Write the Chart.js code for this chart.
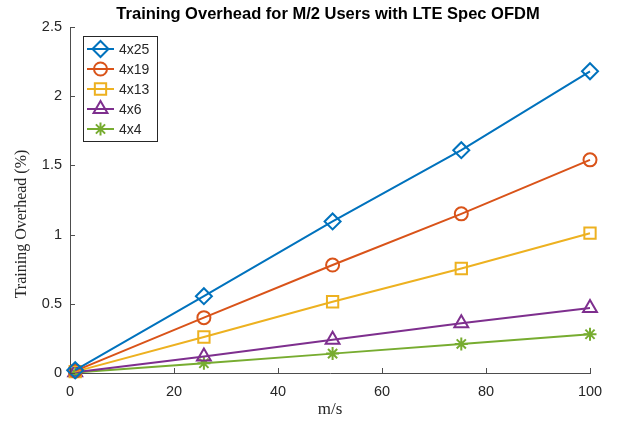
<!DOCTYPE html>
<html>
<head>
<meta charset="utf-8">
<script src="https://cdn.jsdelivr.net/npm/chart.js@4/dist/chart.umd.min.js"></script>
<style>
  html, body { margin: 0; padding: 0; background: #fff; }
  #wrap { width: 618px; height: 424px; }
</style>
</head>
<body>
<div id="wrap"><canvas id="overheadChart"></canvas></div>
<script>
// speeds in m/s where the markers sit
const speeds = [1, 25.75, 50.5, 75.25, 100];

const seriesNames = ["4x25", "4x19", "4x13", "4x6", "4x4"];
const overhead4x25 = [0.02, 0.555, 1.095, 1.61, 2.18];
const overhead4x19 = [0.015, 0.40, 0.78, 1.15, 1.54];
const overhead4x13 = [0.01, 0.26, 0.515, 0.755, 1.01];
const overhead4x6 = [0.005, 0.12, 0.24, 0.36, 0.47];
const overhead4x4 = [0.003, 0.07, 0.14, 0.21, 0.28];

const xTicks = [0, 20, 40, 60, 80, 100];
const yTicks = [0, 0.5, 1, 1.5, 2, 2.5];

const chartTitle = "Training Overhead for M/2 Users with LTE Spec OFDM";
const yTitle = "Training Overhead (%)";
const xTitle = "m/s";

const seriesValues = [overhead4x25, overhead4x19, overhead4x13, overhead4x6, overhead4x4];
const colors = ["#0072BD", "#D95319", "#EDB120", "#7E2F8E", "#77AC30"];
const markers = ["rectRot", "circle", "rect", "triangle", "star"];
const markerSizes = [8, 6.5, 8, 8, 6.5];

const axisColor = "#4d4d4d";
const textColor = "#262626";
const sans = "'Liberation Sans', Arial, sans-serif";
const serif = "'Liberation Serif', 'Times New Roman', serif";

const datasets = seriesNames.map((name, i) => ({
  label: name,
  data: speeds.map((s, j) => ({ x: s, y: seriesValues[i][j] })),
  borderColor: colors[i],
  backgroundColor: "rgba(0,0,0,0)",
  borderWidth: 2,
  pointStyle: markers[i],
  pointRadius: markerSizes[i],
  pointBorderWidth: 2,
  pointBackgroundColor: "rgba(0,0,0,0)",
  pointBorderColor: colors[i],
  tension: 0,
  clip: false,
}));

function drawMarker(ctx, style, r, x, y, color) {
  if (Chart.helpers && Chart.helpers.drawPoint) {
    ctx.strokeStyle = color;
    ctx.fillStyle = "rgba(0,0,0,0)";
    ctx.lineWidth = 2;
    Chart.helpers.drawPoint(ctx, { pointStyle: style, radius: r, rotation: 0, borderWidth: 2 }, x, y);
  }
}

// MATLAB-style title, y label, legend in the upper left, inward tick marks
const matlabBits = {
  id: "matlabBits",
  afterDraw(chart) {
    const ctx = chart.ctx;
    const area = chart.chartArea;
    const xs = chart.scales.x;
    const ys = chart.scales.y;
    ctx.save();
    ctx.strokeStyle = axisColor;
    ctx.lineWidth = 1;
    ctx.beginPath();
    xTicks.forEach(t => {
      const px = Math.round(xs.getPixelForValue(t)) + 0.5;
      ctx.moveTo(px, area.bottom);
      ctx.lineTo(px, area.bottom - 5);
    });
    yTicks.forEach(t => {
      const py = Math.round(ys.getPixelForValue(t)) + 0.5;
      ctx.moveTo(area.left, py);
      ctx.lineTo(area.left + 5, py);
    });
    ctx.stroke();

    // title
    ctx.fillStyle = "#000";
    ctx.font = "bold 16.5px " + sans;
    ctx.textAlign = "center";
    ctx.textBaseline = "middle";
    ctx.fillText(chartTitle, 328, 14);

    // y label
    ctx.save();
    ctx.translate(22, 224);
    ctx.rotate(-Math.PI / 2);
    ctx.fillStyle = textColor;
    ctx.font = "16px " + serif;
    ctx.fillText(yTitle, 0, 0);
    ctx.restore();

    // legend box
    const bx = 83.5, by = 36.5, bw = 74, bh = 105;
    ctx.fillStyle = "#fff";
    ctx.fillRect(bx, by, bw, bh);
    ctx.strokeStyle = textColor;
    ctx.lineWidth = 1;
    ctx.strokeRect(bx, by, bw, bh);

    ctx.font = "14px " + sans;
    ctx.textBaseline = "middle";
    ctx.textAlign = "left";
    chart.data.datasets.forEach((ds, i) => {
      const y = 49 + i * 20;
      ctx.strokeStyle = ds.borderColor;
      ctx.lineWidth = 2;
      ctx.beginPath();
      ctx.moveTo(87, y);
      ctx.lineTo(114, y);
      ctx.stroke();
      drawMarker(ctx, ds.pointStyle, ds.pointRadius, 100.5, y, ds.borderColor);
      ctx.fillStyle = textColor;
      ctx.fillText(ds.label, 119, y + 1);
    });
    ctx.restore();
  },
};

new Chart(document.getElementById("overheadChart"), {
  type: "line",
  data: { datasets: datasets },
  plugins: [matlabBits],
  options: {
    responsive: true,
    maintainAspectRatio: false,
    animation: false,
    layout: { padding: { left: 0, right: 28, top: 27, bottom: 0 } },
    plugins: {
      legend: { display: false },
      tooltip: { enabled: false },
      title: { display: false },
    },
    scales: {
      x: {
        type: "linear",
        min: 0,
        max: 100,
        afterBuildTicks: (scale) => { scale.ticks = xTicks.map(v => ({ value: v })); },
        grid: { display: false, drawTicks: false },
        border: { display: true, color: axisColor, width: 1 },
        ticks: {
          color: textColor,
          padding: 10,
          maxRotation: 0,
          font: { family: sans, size: 14.5 },
        },
        title: {
          display: true,
          text: xTitle,
          color: textColor,
          font: { family: serif, size: 17 },
          padding: { top: 0, bottom: 4 },
        },
        afterFit: function (scale) {
          scale.height = 51;
        },
      },
      y: {
        min: 0,
        max: 2.5,
        afterBuildTicks: (scale) => { scale.ticks = yTicks.map(v => ({ value: v })); },
        grid: { display: false, drawTicks: false },
        border: { display: true, color: axisColor, width: 1 },
        ticks: {
          color: textColor,
          padding: 8,
          font: { family: sans, size: 14.5 },
          callback: (v) => String(v),
        },
        afterFit: function (scale) {
          scale.width = 70;
        },
      },
    },
  },
});
</script>
</body>
</html>
